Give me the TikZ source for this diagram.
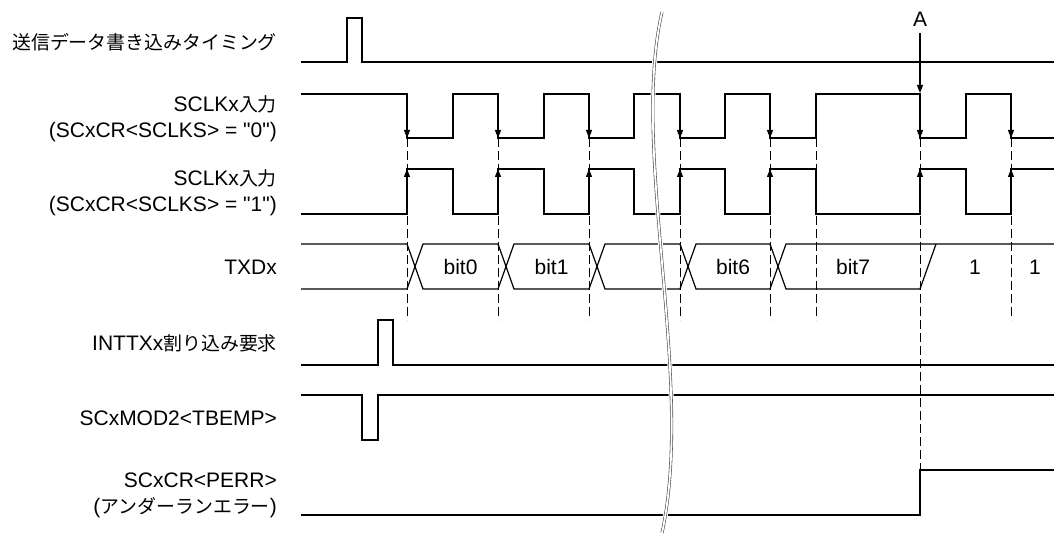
\documentclass[tikz,border=0pt]{standalone}
\usepackage{fontspec}
\setmainfont{Liberation Sans}
\newfontfamily\jpfont{Noto Sans CJK JP}[Scale=0.9]
\usetikzlibrary{arrows.meta}

\begin{document}
\begin{tikzpicture}[
  x=1pt, y=-1pt,
  sig/.style={line width=1.2pt, line join=miter},
  guide/.style={line width=1pt, dash pattern=on 9pt off 4pt},
  edgearr/.style={line width=1.2pt, -{Triangle[length=8pt,width=6pt]}},
  lbl/.style={anchor=east, align=right, font=\fontsize{21}{26}\selectfont, inner sep=0pt},
  bitlbl/.style={font=\fontsize{21}{24}\selectfont, inner sep=0pt},
  brk/.style={draw=black!70, line width=0.6pt, double=white, double distance=1.8pt}
]
  \useasboundingbox (0,0) rectangle (1054,534);

  %% ── Signal names ──────────────────────────────────────────────────────────
  \node[lbl] (lblwr)    at (277,42)    {\jpfont 送信データ書き込みタイミング};
  \node[lbl] (lblclk0)  at (277,119)   {SCLKx{\jpfont 入力}\\(SCxCR<SCLKS> = \textquotedbl 0\textquotedbl)};
  \node[lbl] (lblclk1)  at (277,192.5) {SCLKx{\jpfont 入力}\\(SCxCR<SCLKS> = \textquotedbl 1\textquotedbl)};
  \node[lbl] (lbltxd)   at (277,267)   {TXDx};
  \node[lbl] (lblint)   at (277,343)   {INTTXx{\jpfont 割り込み要求}};
  \node[lbl] (lbltbemp) at (277,418)   {SCxMOD2<TBEMP>};
  \node[lbl] (lblperr)  at (277,495.5) {SCxCR<PERR>\\({\jpfont アンダーランエラー})};

  %% ── Waveforms ─────────────────────────────────────────────────────────────
  % write timing pulse
  \draw[sig] (301,62) -- (347,62) -- (347,18) -- (362,18) -- (362,62) -- (1054,62);
  % SCLKx, SCLKS = 0
  \draw[sig] (301,94) -- (407,94) -- (407,138) -- (453,138) -- (453,94)
    -- (498,94) -- (498,138) -- (544,138) -- (544,94) -- (589,94) -- (589,138)
    -- (634,138) -- (634,94) -- (680,94) -- (680,138) -- (725,138) -- (725,94)
    -- (770,94) -- (770,138) -- (816,138) -- (816,94) -- (920,94) -- (920,138)
    -- (966,138) -- (966,94) -- (1011,94) -- (1011,138) -- (1054,138);
  % SCLKx, SCLKS = 1
  \draw[sig] (301,214) -- (407,214) -- (407,169) -- (453,169) -- (453,214)
    -- (498,214) -- (498,169) -- (544,169) -- (544,214) -- (589,214) -- (589,169)
    -- (634,169) -- (634,214) -- (680,214) -- (680,169) -- (725,169) -- (725,214)
    -- (770,214) -- (770,169) -- (816,169) -- (816,214) -- (920,214) -- (920,169)
    -- (966,169) -- (966,214) -- (1011,214) -- (1011,169) -- (1054,169);
  % clock edge arrows
  \foreach \e in {407,498,589,680,770,920,1011} {
    \draw[edgearr] (\e,94) -- (\e,138);
    \draw[edgearr] (\e,214) -- (\e,169);
  }
  % TXDx data bus
  \draw[sig] (301,244) -- (407,244) -- (423,289) -- (498,289) -- (514,244)
    -- (589,244) -- (605,289) -- (680,289) -- (696,244) -- (770,244)
    -- (786,289) -- (920,289) -- (936,244);
  \draw[sig] (301,289) -- (407,289) -- (423,244) -- (498,244) -- (514,289)
    -- (589,289) -- (605,244) -- (680,244) -- (696,289) -- (770,289)
    -- (786,244) -- (1054,244);
  \node[bitlbl] (bit0) at (460.5,267) {bit0};
  \node[bitlbl] (bit1) at (551.5,267) {bit1};
  \node[bitlbl] (bit6) at (733,267)   {bit6};
  \node[bitlbl] (bit7) at (853,267)   {bit7};
  \node[bitlbl] (stop1) at (975,267)  {1};
  \node[bitlbl] (stop2) at (1035,267) {1};
  % INTTXx request
  \draw[sig] (301,365) -- (378,365) -- (378,320) -- (393,320) -- (393,365) -- (1054,365);
  % TBEMP flag
  \draw[sig] (301,395) -- (362,395) -- (362,440) -- (378,440) -- (378,395) -- (1054,395);
  % PERR flag
  \draw[sig] (301,515) -- (920,515) -- (920,470) -- (1054,470);

  %% ── Timing guides ─────────────────────────────────────────────────────────
  \foreach \g in {407,498,589,680,770,816,1011}
    \draw[guide] (\g,138) -- (\g,320);
  \draw[guide] (920,138) -- (920,470);

  % point A
  \node[bitlbl] (lblA) at (920,19) {A};
  \coordinate (atip) at (920,93);
  \draw[edgearr] ([yshift=-7pt]lblA.south) -- (atip);

  %% ── Time break ────────────────────────────────────────────────────────────
  \draw[white, line width=5pt] (662,12) .. controls (630,150) and (695,380) .. (662,533);
  \draw[brk] (662,12) .. controls (630,150) and (695,380) .. (662,533);
\end{tikzpicture}
\end{document}
